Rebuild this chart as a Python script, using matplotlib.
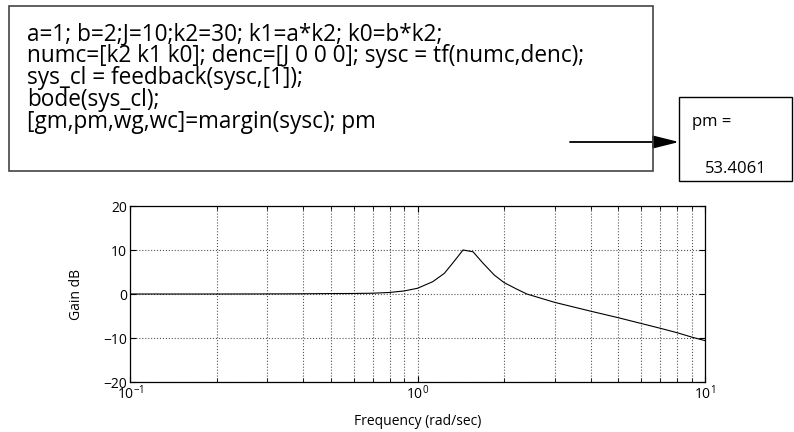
import matplotlib
matplotlib.use("Agg")
import matplotlib.pyplot as plt
from matplotlib.patches import Rectangle
from matplotlib.ticker import LogLocator, NullFormatter

plt.rcParams['font.family'] = ['Open Sans', 'DejaVu Sans']
plt.rcParams['mathtext.default'] = 'regular'

# closed-loop gain
freq = [0.1, 0.2, 0.3, 0.4, 0.5, 0.6, 0.7, 0.8, 0.9, 1.0, 1.13, 1.24, 1.34,
        1.44, 1.56, 1.69, 1.85, 2.0, 2.2, 2.4, 3.0, 4.0, 5.0, 6.0, 7.0, 8.0,
        9.0, 10.0]
gain_db = [0.0, 0.0, 0.02, 0.05, 0.1, 0.12, 0.18, 0.35, 0.7, 1.3, 2.8, 4.7,
           7.4, 10.0, 9.6, 7.0, 4.3, 2.6, 1.2, 0.0, -1.9, -3.9, -5.4, -6.7,
           -7.8, -8.8, -9.8, -10.6]

code_lines = [
    "a=1; b=2;J=10;k2=30; k1=a*k2; k0=b*k2;",
    "numc=[k2 k1 k0]; denc=[J 0 0 0]; sysc = tf(numc,denc);",
    "sys_cl = feedback(sysc,[1]);",
    "bode(sys_cl);",
    "[gm,pm,wg,wc]=margin(sysc); pm",
]
pm_label = "pm ="
pm_value = "53.4061"

fig = plt.figure(figsize=(7.94, 4.32), dpi=100)
W, H = 794.0, 432.0

# bode gain plot
ax = fig.add_axes([130 / W, 1 - 382 / H, 575 / W, 176 / H])
ax.semilogx(freq, gain_db, color='black', linewidth=0.8)
ax.set_xlim(0.1, 10)
ax.set_ylim(-20, 20)
ax.set_yticks([-20, -10, 0, 10, 20])
ax.set_xticks([0.1, 1, 10])
ax.set_xticklabels(['$10^{-1}$', '$10^{0}$', '$10^{1}$'])
ax.xaxis.set_minor_locator(LogLocator(base=10, subs=range(2, 10)))
ax.xaxis.set_minor_formatter(NullFormatter())
ax.grid(True, which='both', axis='x', linestyle=':', color='#555555', linewidth=0.8)
ax.grid(True, which='major', axis='y', linestyle=':', color='#555555', linewidth=0.8)
ax.tick_params(which='both', direction='in', top=True, right=True,
               labelsize=10, pad=2)
ax.tick_params(which='major', length=4)
ax.tick_params(which='minor', length=3)
for s in ax.spines.values():
    s.set_linewidth(0.9)
ax.set_xlabel("Frequency (rad/sec)", fontsize=10, labelpad=8)
ax.set_ylabel("Gain dB", fontsize=10, labelpad=14)

# code box
fig.patches.append(Rectangle((9 / W, 1 - 171 / H), 644 / W, 165 / H,
                             transform=fig.transFigure, fill=False,
                             edgecolor='#444444', linewidth=1.2))
baselines = [40, 62, 84, 106, 128]
for line, yb in zip(code_lines, baselines):
    fig.text(27 / W, 1 - yb / H, line, fontsize=16.3, va='baseline', ha='left',
             color='black')

# result box
fig.patches.append(Rectangle((679 / W, 1 - 181 / H), 113 / W, 84 / H,
                             transform=fig.transFigure, fill=False,
                             edgecolor='black', linewidth=1.0))
fig.text(692 / W, 1 - 126 / H, pm_label, fontsize=12, va='baseline')
fig.text(705 / W, 1 - 173 / H, pm_value, fontsize=12, va='baseline')

# arrow
ax.annotate("", xy=(679 / W, 1 - 142 / H), xytext=(570 / W, 1 - 142 / H),
            xycoords='figure fraction', textcoords='figure fraction',
            annotation_clip=False,
            arrowprops=dict(arrowstyle='-|>,head_length=1.6,head_width=0.4',
                            color='black', lw=1.3, shrinkA=0, shrinkB=0))

fig.savefig("out.png", dpi=100)
